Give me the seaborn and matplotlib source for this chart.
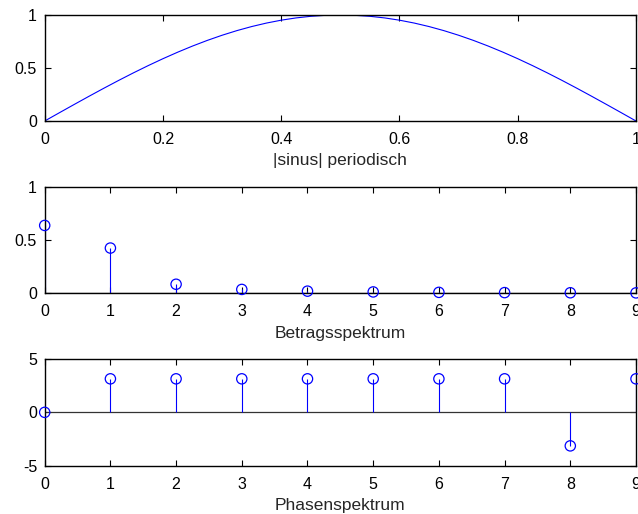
import numpy as np
import pandas as pd
import matplotlib
matplotlib.use("Agg")
import matplotlib.pyplot as plt
import seaborn as sns

# |sin| over one period, sampled at t = 0, 0.025, ..., 1
t = [i * 0.025 for i in range(41)]
sinus = [0.0, 0.0785, 0.1564, 0.2334, 0.3090, 0.3827, 0.4540, 0.5225, 0.5878, 0.6494,
         0.7071, 0.7604, 0.8090, 0.8526, 0.8910, 0.9239, 0.9511, 0.9724, 0.9877, 0.9969,
         1.0,
         0.9969, 0.9877, 0.9724, 0.9511, 0.9239, 0.8910, 0.8526, 0.8090, 0.7604, 0.7071,
         0.6494, 0.5878, 0.5225, 0.4540, 0.3827, 0.3090, 0.2334, 0.1564, 0.0785, 0.0]

# Fourier coefficients k = 0..9
k = [0, 1, 2, 3, 4, 5, 6, 7, 8, 9]
betrag = [0.6366, 0.4244, 0.0849, 0.0364, 0.0202, 0.0129, 0.0089, 0.0065, 0.0050, 0.0039]
phase = [0.0, 3.1416, 3.1416, 3.1416, 3.1416, 3.1416, 3.1416, 3.1416, -3.1416, 3.1416]

xlabels = ["|sinus| periodisch", "Betragsspektrum", "Phasenspektrum"]

sns.set_theme(style="white")
plt.rcParams["font.family"] = ["Liberation Sans", "DejaVu Sans"]
plt.rcParams["axes.unicode_minus"] = False

TICK_FS = 11.5
LABEL_FS = 12.5

blue = "#0000ff"
W, H = 638, 514
fig = plt.figure(figsize=(W / 100, H / 100), dpi=100)
fig.patch.set_facecolor("white")

left = 44.7 / W
width = (636.0 - 44.7) / W


def make_axes(top_px, bottom_px):
    return fig.add_axes([left, 1 - bottom_px / H, width, (bottom_px - top_px) / H])


def style(ax):
    for s in ax.spines.values():
        s.set_visible(True)
        s.set_color("black")
        s.set_linewidth(1.0)
    ax.tick_params(direction="in", length=4, width=0.8, colors="black",
                   top=True, right=True, bottom=True, left=True,
                   labelsize=TICK_FS, labelcolor="black")
    ax.tick_params(axis="x", pad=8)
    ax.tick_params(axis="y", pad=5.5)
    ax.set_facecolor("white")
    ax.grid(False)


# Top: periodic |sin|
ax1 = make_axes(15.0, 121.0)
df1 = pd.DataFrame({"t": t, "y": sinus})
sns.lineplot(data=df1, x="t", y="y", ax=ax1, color=blue, linewidth=0.8)
ax1.set_xlim(0, 1)
ax1.set_ylim(0, 1)
ax1.set_xticks([0, 0.2, 0.4, 0.6, 0.8, 1])
ax1.set_xticklabels(["0", "0.2", "0.4", "0.6", "0.8", "1"])
ax1.set_yticks([0, 0.5, 1])
ax1.set_yticklabels(["0", "0.5", "1"])
ax1.set_xlabel(xlabels[0], fontsize=LABEL_FS, labelpad=4.5)
ax1.set_ylabel("")
style(ax1)


def stem(ax, xs, ys):
    ax.axhline(0, color="#333333", linewidth=0.9, zorder=1)
    ax.vlines(xs, 0, ys, color=blue, linewidth=0.8, zorder=2)
    df = pd.DataFrame({"k": xs, "v": ys})
    sns.scatterplot(data=df, x="k", y="v", ax=ax, marker="o", s=55,
                    facecolors="none", edgecolor=blue, linewidth=0.9,
                    clip_on=False, zorder=3)


# Middle: magnitude spectrum
ax2 = make_axes(186.7, 293.3)
stem(ax2, k, betrag)
ax2.set_xlim(0, 9)
ax2.set_ylim(0, 1)
ax2.set_xticks(k)
ax2.set_yticks([0, 0.5, 1])
ax2.set_yticklabels(["0", "0.5", "1"])
ax2.set_xlabel(xlabels[1], fontsize=LABEL_FS, labelpad=4.5)
ax2.set_ylabel("")
style(ax2)

# Bottom: phase spectrum
ax3 = make_axes(359.0, 465.7)
stem(ax3, k, phase)
ax3.set_xlim(0, 9)
ax3.set_ylim(-5, 5)
ax3.set_xticks(k)
ax3.set_yticks([-5, 0, 5])
ax3.set_xlabel(xlabels[2], fontsize=LABEL_FS, labelpad=4.5)
ax3.set_ylabel("")
style(ax3)

fig.savefig("out.png", dpi=100, facecolor="white")
